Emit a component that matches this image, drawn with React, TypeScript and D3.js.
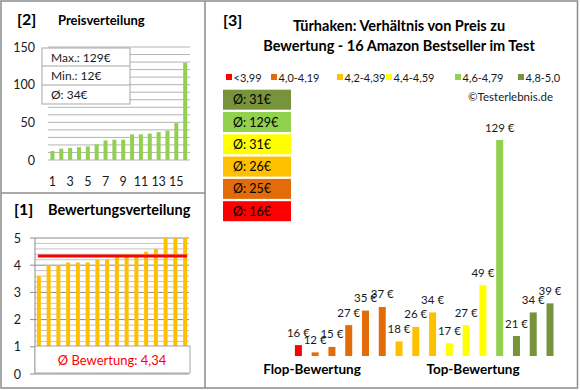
import React from 'react';
import * as d3 from 'd3';

const prices = [16, 12, 15, 27, 35, 37, 18, 26, 34, 17, 27, 49, 129, 21, 34, 39];
const priceClass = [0, 1, 1, 1, 1, 1, 2, 2, 2, 3, 3, 3, 4, 5, 5, 5];
const ratings = [3.6, 4.0, 4.0, 4.1, 4.1, 4.1, 4.2, 4.2, 4.3, 4.4, 4.4, 4.5, 4.6, 5.0, 5.0, 5.0];
const sortedPrices = [12, 15, 16, 17, 18, 21, 26, 27, 27, 34, 34, 35, 37, 39, 49, 129];
const classLabels = ['<3,99', '4,0-4,19', '4,2-4,39', '4,4-4,59', '4,6-4,79', '4,8-5,0'];
const classColors = ['#FF0000', '#E36C0A', '#FFC000', '#FFFF00', '#92D050', '#77933C'];
const classAvg = ['16€', '25€', '26€', '31€', '129€', '31€'];
const priceTicks = [0, 50, 100, 150];
const priceXTicks = [1, 3, 5, 7, 9, 11, 13, 15];
const ratingTicks = [0, 1, 2, 3, 4, 5];
const statLabels = ['Max.: 129€', 'Min.: 12€', 'Ø: 34€'];
const avgRating = 4.34;
const avgRatingLabel = 'Ø Bewertung: 4,34';

const FONT = 'Lato, "Open Sans", sans-serif';
const TXT = '#1a1a1a';
const BORDER = '#8c8c8c';

export default function App() {
  // Panel [2] price distribution
  const x2 = d3.scaleBand<number>().domain(d3.range(1, 17)).range([48, 189.6]);
  const y2 = d3.scaleLinear().domain([0, 150]).range([160, 47]);
  const grid2 = d3.range(0, 151, 10);

  // Panel [1] rating distribution
  const x1 = d3.scaleBand<number>().domain(d3.range(0, 16)).range([34, 190]);
  const y1 = d3.scaleLinear().domain([0, 5]).range([374, 238]);
  const grid1 = d3.range(0, 26).map((i) => i * 0.2);

  // Panel [3] price vs rating
  const x3 = d3.scaleBand<number>().domain(d3.range(0, 16)).range([290, 558.4]);
  const y3 = d3.scaleLinear().domain([10, 129]).range([356, 140]);

  const legendX = [226, 271, 337, 386, 455, 518];
  const avgOrder = [5, 4, 3, 2, 1, 0];

  return (
    <svg
      width={580}
      height={390}
      style={{ position: 'absolute', left: 0, top: 0, fontFamily: FONT }}
    >
      <rect x={0} y={0} width={580} height={390} fill="#fff" />
      {/* frame */}
      <rect x={1} y={1} width={576.5} height={387} fill="none" stroke={BORDER} strokeWidth={1.5} />
      <line x1={205} x2={205} y1={1} y2={388} stroke={BORDER} strokeWidth={1.5} />
      <line x1={1} x2={205} y1={193} y2={193} stroke={BORDER} strokeWidth={1.5} />

      {/* ---------- Panel [2] ---------- */}
      <text x={17} y={25} fontSize={16} fontWeight={700} fill="#000">[2]</text>
      <text x={58} y={25} fontSize={13} fontWeight={700} fill="#000">Preisverteilung</text>
      {grid2.map((v) => (
        <line key={v} x1={48} x2={190} y1={y2(v)} y2={y2(v)} stroke="#b4b4b4" strokeWidth={1} />
      ))}
      {priceTicks.map((v) => (
        <text key={v} x={35} y={y2(v) + 4.5} fontSize={12.5} textAnchor="end" fill={TXT}>{v}</text>
      ))}
      {sortedPrices.map((v, i) => {
        const cx = (x2(i + 1) as number) + x2.bandwidth() / 2;
        return <rect key={i} x={cx - 2} y={y2(v)} width={4} height={y2(0) - y2(v)} fill="#92D050" />;
      })}
      {priceXTicks.map((t) => (
        <text key={t} x={(x2(t) as number) + x2.bandwidth() / 2} y={186} fontSize={12.5} textAnchor="middle" fill={TXT}>{t}</text>
      ))}
      <rect x={42} y={48} width={88} height={56} fill="#fff" stroke="#a6a6a6" strokeWidth={1} />
      <line x1={42} x2={130} y1={66} y2={66} stroke="#a6a6a6" />
      <line x1={42} x2={130} y1={85} y2={85} stroke="#a6a6a6" />
      {statLabels.map((s, i) => (
        <text key={s} x={51} y={61.5 + i * 18.8} fontSize={12} fill={TXT}>{s}</text>
      ))}

      {/* ---------- Panel [1] ---------- */}
      <text x={14} y={215} fontSize={16} fontWeight={700} fill="#000">[1]</text>
      <text x={48} y={215} fontSize={14.5} fontWeight={700} fill="#000">Bewertungsverteilung</text>
      {grid1.map((v, i) => (
        <line key={i} x1={35} x2={189} y1={y1(v)} y2={y1(v)} stroke={i % 5 === 0 ? '#8c8c8c' : '#c4c4c4'} strokeWidth={1} />
      ))}
      <line x1={35} x2={35} y1={y1(5)} y2={y1(0)} stroke="#8c8c8c" />
      {ratingTicks.map((v) => (
        <g key={v}>
          <line x1={30} x2={35} y1={y1(v)} y2={y1(v)} stroke="#8c8c8c" />
          <text x={21} y={y1(v) + 4.5} fontSize={12.5} textAnchor="end" fill={TXT}>{v}</text>
        </g>
      ))}
      {ratings.map((v, i) => {
        const cx = (x1(i) as number) + x1.bandwidth() / 2;
        return <rect key={i} x={cx - 2} y={y1(v)} width={4} height={y1(0) - y1(v)} fill="#FFC000" />;
      })}
      <line
        x1={(x1(0) as number) + x1.bandwidth() / 2 - 1}
        x2={(x1(15) as number) + x1.bandwidth() / 2 + 2}
        y1={y1(avgRating)}
        y2={y1(avgRating)}
        stroke="#FF0000"
        strokeWidth={3}
      />
      <rect x={35} y={346} width={155} height={27} fill="#fff" stroke="#a6a6a6" strokeWidth={1} />
      <text x={112} y={365} fontSize={13} textAnchor="middle" fill="#FF0000">{avgRatingLabel}</text>

      {/* ---------- Panel [3] ---------- */}
      <text x={223} y={26} fontSize={16} fontWeight={700} fill="#000">[3]</text>
      <text x={399} y={31} fontSize={14.5} fontWeight={700} textAnchor="middle" fill="#000">Türhaken: Verhältnis von Preis zu</text>
      <text x={399} y={51} fontSize={14.5} fontWeight={700} textAnchor="middle" fill="#000">Bewertung - 16 Amazon Bestseller im Test</text>
      {classLabels.map((l, i) => (
        <g key={l}>
          <rect x={legendX[i]} y={74} width={6} height={6} fill={classColors[i]} />
          <text x={legendX[i] + 7.5} y={81.5} fontSize={11} fill={TXT}>{l}</text>
        </g>
      ))}
      <text x={553} y={101} fontSize={11.5} textAnchor="end" fill={TXT}>©Testerlebnis.de</text>
      {avgOrder.map((c, i) => (
        <g key={c}>
          <rect x={223} y={89.7 + i * 22.3} width={68} height={20} fill={classColors[c]} />
          <text x={233} y={89.7 + i * 22.3 + 14.5} fontSize={12.5} fill="#000">{'Ø: ' + classAvg[c]}</text>
        </g>
      ))}
      {prices.map((v, i) => {
        const cx = (x3(i) as number) + x3.bandwidth() / 2;
        return (
          <g key={i}>
            <rect x={cx - 3.5} y={y3(v)} width={7} height={y3(10) - y3(v)} fill={classColors[priceClass[i]]} />
            <text x={cx} y={y3(v) - 8.5} fontSize={11.5} textAnchor="middle" fill={TXT}>{v + ' €'}</text>
          </g>
        );
      })}
      <text x={312} y={374} fontSize={13.5} fontWeight={700} textAnchor="middle" fill="#000">Flop-Bewertung</text>
      <text x={473} y={374} fontSize={13.5} fontWeight={700} textAnchor="middle" fill="#000">Top-Bewertung</text>
    </svg>
  );
}
